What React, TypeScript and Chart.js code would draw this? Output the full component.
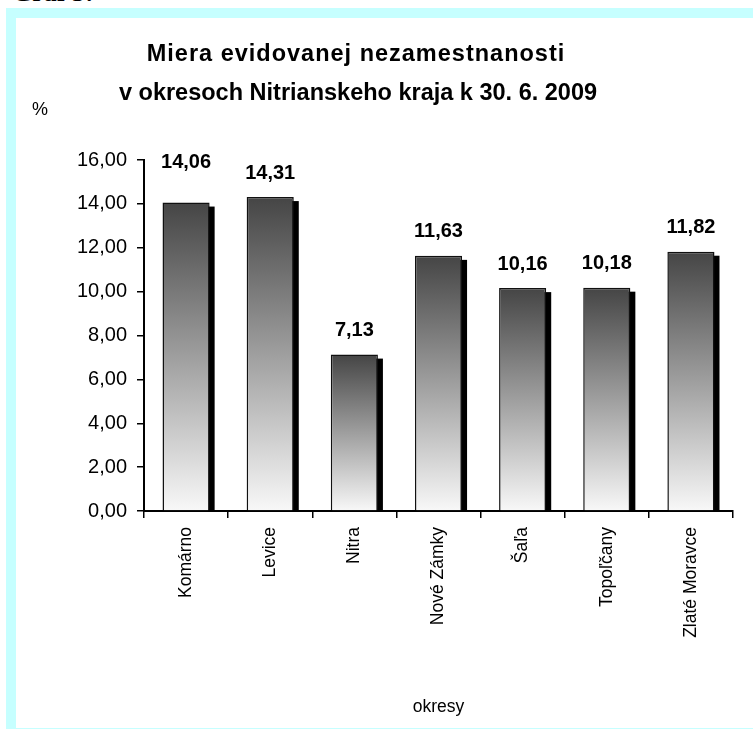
import React, { useEffect, useRef } from "react";
import { Chart, registerables } from "chart.js";

Chart.register(...registerables);

const districts = ["Komárno", "Levice", "Nitra", "Nové Zámky", "Šaľa", "Topoľčany", "Zlaté Moravce"];
const rates = [14.06, 14.31, 7.13, 11.63, 10.16, 10.18, 11.82];
const yMin = 0;
const yMax = 16;
const yStep = 2;
const titleLines = ["Miera evidovanej nezamestnanosti", "v okresoch Nitrianskeho kraja k 30. 6. 2009"];
const yUnit = "%";
const xTitle = "okresy";
const captionText = "Graf 3:";

const FONT = '"Liberation Sans", Arial, sans-serif';
const fmt = (v: number) => v.toFixed(2).replace(".", ",");

// extra lift (px) of individual value labels, as placed in the original
const labelLift = [16, 0, 0, 0, 0, 0, 0];

const decorPlugin = {
  id: "decor",
  beforeDatasetsDraw(chart: any) {
    const { ctx, chartArea } = chart;
    const meta = chart.getDatasetMeta(0);
    ctx.save();
    ctx.beginPath();
    ctx.rect(chartArea.left, 0, chartArea.right - chartArea.left + 20, chartArea.bottom);
    ctx.clip();
    ctx.fillStyle = "#000";
    meta.data.forEach((bar: any) => {
      const { x, y, base, width } = bar.getProps(["x", "y", "base", "width"], true);
      ctx.fillRect(x - width / 2 + 5, y + 4, width, base - y);
    });
    ctx.restore();
  },
  afterDatasetsDraw(chart: any) {
    const { ctx } = chart;
    const meta = chart.getDatasetMeta(0);
    ctx.save();
    ctx.fillStyle = "#000";
    ctx.font = `bold 20px ${FONT}`;
    ctx.textAlign = "center";
    ctx.textBaseline = "middle";
    meta.data.forEach((bar: any, i: number) => {
      const { x, y } = bar.getProps(["x", "y"], true);
      ctx.fillText(fmt(rates[i]), x, y - 24 - labelLift[i]);
    });
    ctx.restore();
  },
  afterDraw(chart: any) {
    const { ctx } = chart;
    ctx.save();
    ctx.fillStyle = "#000";
    ctx.textAlign = "center";
    ctx.textBaseline = "alphabetic";
    ctx.font = `bold 23.5px ${FONT}`;
    (ctx as any).letterSpacing = "1px";
    ctx.fillText(titleLines[0], 340, 43);
    (ctx as any).letterSpacing = "0px";
    ctx.fillText(titleLines[1], 342, 82);
    ctx.font = `18px ${FONT}`;
    ctx.textAlign = "left";
    ctx.textBaseline = "middle";
    ctx.fillText(yUnit, 16, 92);
    ctx.restore();
  },
};

export default function App() {
  const ref = useRef<HTMLCanvasElement | null>(null);

  useEffect(() => {
    if (!ref.current) return;
    const chart = new Chart(ref.current, {
      type: "bar",
      data: {
        labels: districts,
        datasets: [
          {
            data: rates,
            backgroundColor: (c: any) => {
              const ch = c.chart;
              if (!ch.chartArea || c.dataIndex == null) return "#888";
              const top = ch.scales.y.getPixelForValue(rates[c.dataIndex]);
              const base = ch.scales.y.getPixelForValue(0);
              const g = ch.ctx.createLinearGradient(0, top, 0, base);
              g.addColorStop(0, "#454545");
              g.addColorStop(1, "#f8f8f8");
              return g;
            },
            borderColor: "#111",
            borderWidth: 1.5,
            barPercentage: 0.56,
            categoryPercentage: 1,
          },
        ],
      },
      options: {
        responsive: false,
        animation: false,
        layout: { padding: { top: 142, left: 0, right: 20, bottom: 0 } },
        plugins: {
          legend: { display: false },
          tooltip: { enabled: false },
          title: { display: false },
        },
        scales: {
          x: {
            grid: { display: true, drawOnChartArea: false, drawTicks: true, tickLength: 7, color: "#000", lineWidth: 1.5 },
            border: { display: true, color: "#000", width: 2 },
            ticks: {
              autoSkip: false,
              maxRotation: 90,
              minRotation: 90,
              padding: 9,
              color: "#000",
              font: { family: FONT, size: 17.5 },
            },
            title: {
              display: true,
              text: xTitle,
              color: "#000",
              font: { family: FONT, size: 17.5 },
              padding: { top: 0, bottom: 10.5 },
            },
            afterFit: (s: any) => {
              s.height = 217;
            },
          },
          y: {
            min: yMin,
            max: yMax,
            grid: { display: true, drawOnChartArea: false, drawTicks: true, tickLength: 7, color: "#000", lineWidth: 1.5 },
            border: { display: true, color: "#000", width: 2 },
            ticks: {
              stepSize: yStep,
              padding: 10,
              color: "#000",
              font: { family: FONT, size: 20 },
              callback: (v: any) => fmt(Number(v)),
            },
            afterFit: (s: any) => {
              s.width = 128;
            },
          },
        },
      },
      plugins: [decorPlugin],
    });
    return () => chart.destroy();
  }, []);

  return (
    <div style={{ position: "absolute", left: 0, top: 0, width: 753, height: 729, overflow: "hidden", background: "#fff" }}>
      <div
        style={{
          position: "absolute",
          left: 12,
          top: -20,
          font: 'bold 26px "Liberation Serif", "Times New Roman", serif',
          lineHeight: "26px",
          whiteSpace: "nowrap",
          color: "#000",
        }}
      >
        {captionText}
      </div>
      <div style={{ position: "absolute", left: 6, top: 8, width: 760, height: 721, background: "#c6ffff" }} />
      <div style={{ position: "absolute", left: 16, top: 18, width: 740, height: 710, background: "#fff" }}>
        <canvas ref={ref} width={737} height={710} style={{ display: "block", width: 737, height: 710 }} />
      </div>
    </div>
  );
}
